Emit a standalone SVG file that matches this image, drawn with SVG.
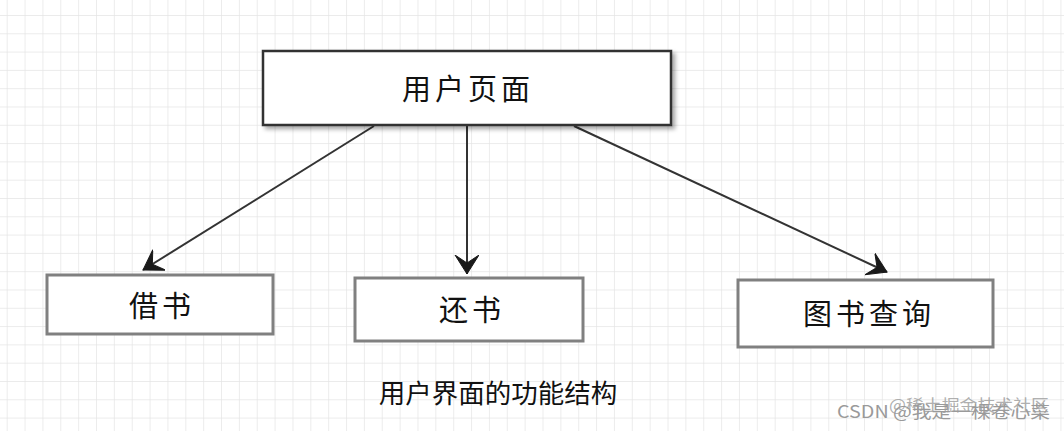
<svg xmlns="http://www.w3.org/2000/svg" width="1064" height="431" viewBox="0 0 1064 431">
  <style>
    .grid { stroke: #e4e4e4; stroke-width: 1.4; }
    .top { fill: #ffffff; stroke: #333333; stroke-width: 2.5; }
    .sub { fill: #ffffff; stroke: #808080; stroke-width: 3; }
    .lbl { font-family: "Noto Sans CJK SC", "Noto Sans", sans-serif; font-size: 29px; fill: #111111; text-anchor: middle; dominant-baseline: central; letter-spacing: 4px; }
    .cap { font-family: "Noto Sans CJK SC", "Noto Sans", sans-serif; font-size: 26.5px; fill: #111111; text-anchor: middle; dominant-baseline: central; }
    .wm { font-family: "Noto Sans CJK SC", "Liberation Sans", sans-serif; fill: #9a9a9a; }
    .edge { stroke: #333333; stroke-width: 2; fill: none; marker-end: url(#arr); }
  </style>
  <defs>
    <pattern id="gridpat" x="6.7" y="15" width="17.86" height="18.3" patternUnits="userSpaceOnUse">
      <line class="grid" x1="0" y1="0" x2="0" y2="18.3"/>
      <line class="grid" x1="0" y1="0" x2="17.86" y2="0"/>
    </pattern>
    <marker id="arr" markerUnits="userSpaceOnUse" markerWidth="22" markerHeight="26" refX="19" refY="12" orient="auto">
      <path d="M0,0 L19,12 L0,24 L8,12 Z" fill="#1a1a1a" stroke="#1a1a1a" stroke-width="1" stroke-linejoin="miter"/>
    </marker>
    <filter id="shadow" x="-10%" y="-20%" width="120%" height="150%">
      <feGaussianBlur in="SourceAlpha" stdDeviation="2"/>
      <feOffset dx="3" dy="3"/>
      <feComponentTransfer><feFuncA type="linear" slope="0.35"/></feComponentTransfer>
      <feMerge><feMergeNode/><feMergeNode in="SourceGraphic"/></feMerge>
    </filter>
  </defs>
  <rect width="1064" height="431" fill="#ffffff"/>
  <rect width="1064" height="431" fill="url(#gridpat)"/>

  <g id="connectors">
    <line class="edge" x1="374" y1="126" x2="143" y2="270"/>
    <line class="edge" x1="467" y1="126" x2="467" y2="274"/>
    <line class="edge" x1="574" y1="126" x2="887" y2="272"/>
  </g>

  <g id="node-user-page">
    <rect class="top" x="263" y="51" width="408" height="74" filter="url(#shadow)"/>
    <text class="lbl" x="468" y="87">用户页面</text>
  </g>
  <g id="node-borrow">
    <rect class="sub" x="47" y="275" width="226" height="59"/>
    <text class="lbl" x="162" y="304">借书</text>
  </g>
  <g id="node-return">
    <rect class="sub" x="355" y="278" width="228" height="63"/>
    <text class="lbl" x="472" y="308">还书</text>
  </g>
  <g id="node-query">
    <rect class="sub" x="738" y="280" width="255" height="67"/>
    <text class="lbl" x="869" y="312">图书查询</text>
  </g>

  <text class="cap" x="498" y="391">用户界面的功能结构</text>

  <text class="wm" x="837" y="418" font-size="17" textLength="213" lengthAdjust="spacingAndGlyphs">CSDN @我是一棵卷心菜</text>
  <text class="wm" x="889" y="411" font-size="16" textLength="160" lengthAdjust="spacingAndGlyphs" fill-opacity="0.8">@稀土掘金技术社区</text>
</svg>
